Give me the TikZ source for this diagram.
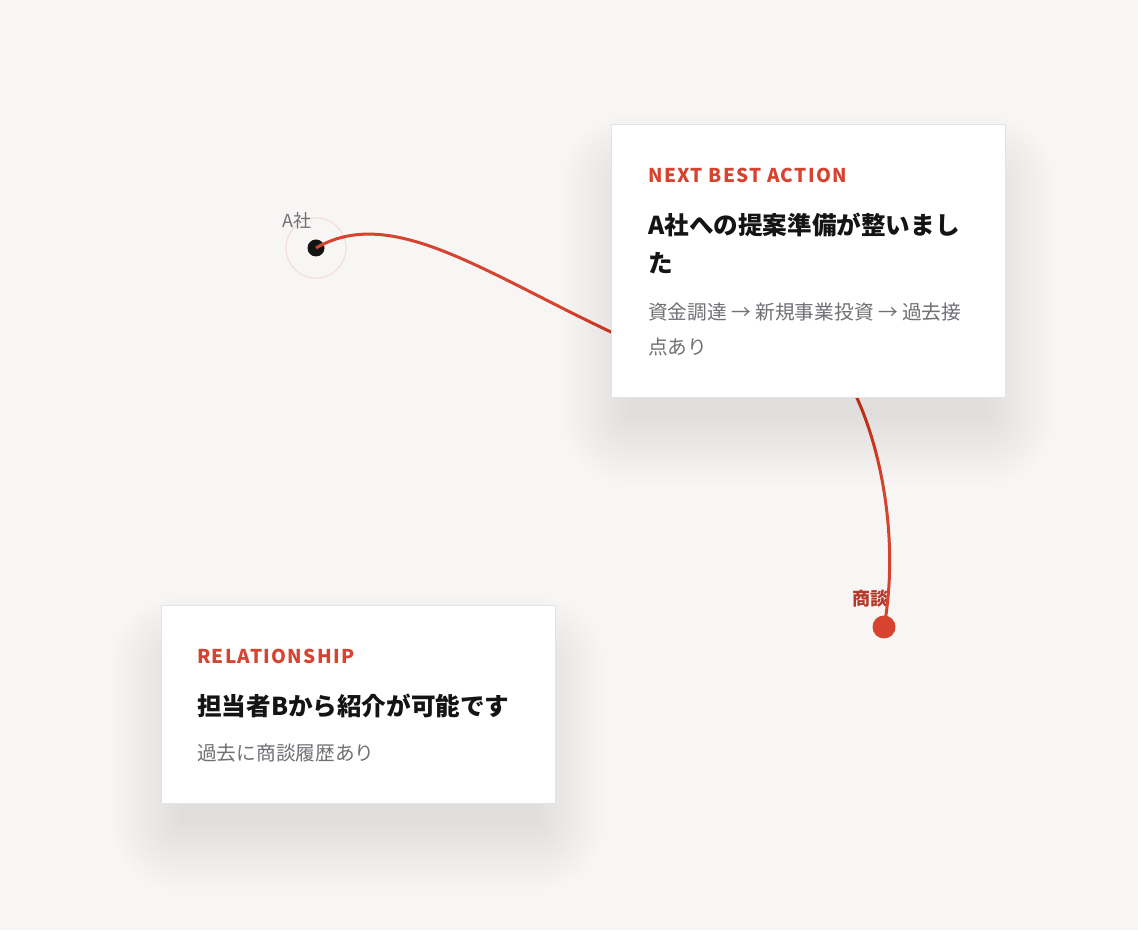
\documentclass[tikz,border=0pt]{standalone}
\usepackage{fontspec}
\setmainfont{Noto Sans CJK JP}
\usetikzlibrary{calc}
\definecolor{bg}{HTML}{F7F6F4}
\definecolor{accent}{HTML}{D6432F}
\definecolor{deepred}{HTML}{B5392A}
\definecolor{ink}{HTML}{141414}
\definecolor{muted}{HTML}{707075}
\definecolor{edge}{HTML}{E3E3E3}
\definecolor{halo}{HTML}{F2DEDB}
\tikzset{
  cardbox/.style={draw=edge,line width=0.8pt,fill=white,inner sep=0pt,anchor=north west},
  tag/.style={inner sep=0pt,anchor=base west,text=accent,font=\fontsize{19}{23}\selectfont\bfseries\addfontfeature{LetterSpace=7}},
  headline/.style={inner sep=0pt,anchor=base west,text=ink,font=\fontsize{24.6}{38}\selectfont\bfseries},
  note/.style={inner sep=0pt,anchor=base west,text=muted,font=\fontsize{19.7}{35}\selectfont},
}
\begin{document}
\begin{tikzpicture}[x=1pt,y=1pt]
\fill[bg] (0,0) rectangle (1138,930);
\useasboundingbox (0,0) rectangle (1138,930);
\node[circle,draw=halo,line width=1.2pt,minimum size=60pt,inner sep=0pt] (halo) at (316,682) {};
\node[circle,fill=ink,minimum size=17pt,inner sep=0pt] (dota) at (316,682) {};
\node[circle,fill=accent,minimum size=23pt,inner sep=0pt] (dotb) at (884,303) {};
\node[inner sep=0pt,anchor=base west,text=muted,font=\fontsize{18}{22}\selectfont] (labela) at (282,702) {A社};
\node[inner sep=0pt,anchor=base east,text=deepred,font=\fontsize{18}{22}\selectfont\bfseries] (labelb) at (889,324) {商談};
\draw[accent,line width=3pt] (dota.center) .. controls (390,725) and (480,660) .. (611,598)
  .. controls (706,553) and (837,576) .. (857,532)
  .. controls (885,470) and (898,380) .. (dotb.center);
% shadows
\foreach \s in {0,3,...,69}
  \fill[black,opacity=0.0024,rounded corners=\s pt] (611-\s+20,533-\s-18) rectangle (1005+\s-20,806+\s-60);
\foreach \s in {0,3,...,69}
  \fill[black,opacity=0.0024,rounded corners=\s pt] (161-\s+20,127-\s-18) rectangle (555+\s-20,325+\s-60);
\node[cardbox,minimum width=394pt,minimum height=273pt] (action) at (611,806) {};
\node[cardbox,minimum width=394pt,minimum height=198pt] (relation) at (161,325) {};
\node[tag] (actiontag) at (648,747) {NEXT BEST ACTION};
\node[headline] (actiontitle) at (648,695) {A社への提案準備が整いまし};
\node[headline] (actiontitlb) at (648,657) {た};
\node[note] (actionnote) at (648,610) {資金調達 → 新規事業投資 → 過去接};
\node[note] (actionnotb) at (648,575) {点あり};
\node[tag] (relationtag) at (197,267) {RELATIONSHIP};
\node[headline] (relationtitle) at (197,215) {担当者Bから紹介が可能です};
\node[note] (relationnote) at (197,170) {過去に商談履歴あり};
\end{tikzpicture}
\end{document}
